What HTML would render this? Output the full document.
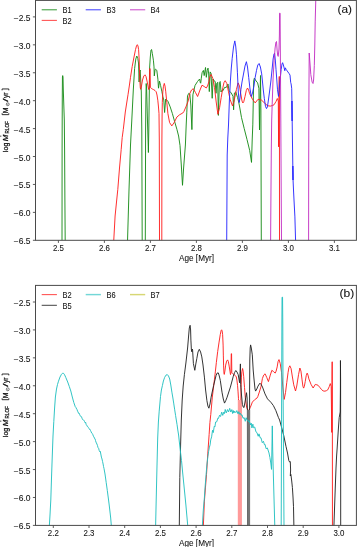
<!DOCTYPE html>
<html><head><meta charset="utf-8"><title>RLOF</title>
<style>
html,body{margin:0;padding:0;background:#fff;}
body{width:357px;height:547px;overflow:hidden;font-family:"Liberation Sans",sans-serif;}
svg{display:block;will-change:transform;}
</style></head><body>
<svg width="357" height="547" viewBox="0 0 357 547">
<defs><clipPath id="ct"><rect x="35.5" y="0.4" width="320.90" height="239.90"/></clipPath><clipPath id="cb"><rect x="35.5" y="285.4" width="320.90" height="240.00"/></clipPath></defs>
<rect x="0" y="0" width="357" height="547" fill="#ffffff"/>
<path d="M62.00,241.50 L62.10,150.00 L62.20,120.00 L62.30,95.00 L62.45,77.00 L62.70,75.60 L63.00,77.00 L63.30,90.00 L63.80,105.00 L64.30,120.00 L64.60,150.00 L64.90,200.00 L65.20,241.50" fill="none" stroke="#168a16" stroke-width="0.92" stroke-linejoin="round" clip-path="url(#ct)"/>
<path d="M127.50,241.50 L129.00,190.00 L130.50,145.00 L131.80,120.00 L133.30,90.00 L134.60,68.60 L135.80,59.00 L136.80,56.00 L137.80,58.50 L138.50,63.00 L138.90,75.00 L139.10,82.00 L139.60,72.00 L140.20,70.00 L140.80,82.00 L141.30,92.00 L141.80,130.00 L142.20,241.50 L145.30,241.50 L145.60,130.00 L145.90,100.00 L146.20,83.50 L146.60,88.00 L147.40,118.00 L148.40,152.50 L148.80,130.00 L149.20,100.00 L149.60,68.00 L150.30,57.00 L151.00,50.00 L151.60,49.50 L152.30,53.40 L153.40,60.20 L154.00,66.90 L154.30,75.90 L155.00,70.00 L155.50,69.10 L156.80,70.30 L157.90,79.20 L158.50,88.20 L159.50,81.10 L160.60,85.60 L161.80,91.20 L162.90,96.80 L163.80,100.00 L164.60,112.50 L165.70,99.00 L167.90,101.30 L170.20,106.90 L172.40,113.60 L174.60,121.50 L176.90,129.30 L178.60,136.00 L180.00,145.40 L181.30,165.00 L182.50,185.30 L183.60,168.00 L185.40,145.00 L186.20,125.00 L186.80,112.20 L187.50,96.00 L188.70,93.40 L189.80,93.90 L190.80,105.00 L191.90,129.60 L192.40,110.00 L192.90,94.80 L195.00,85.50 L197.50,81.50 L199.60,79.00 L200.30,82.50 L200.70,83.20 L201.30,78.20 L202.10,72.70 L203.40,70.40 L204.20,75.60 L205.50,67.50 L206.30,77.30 L207.20,70.60 L208.00,68.10 L208.70,74.00 L209.30,91.60 L210.10,71.90 L211.00,73.10 L212.20,98.30 L213.10,79.00 L213.90,80.70 L215.20,81.50 L216.00,93.30 L216.80,83.20 L217.70,82.40 L218.40,115.40 L219.40,82.40 L220.20,81.50 L221.00,92.00 L221.80,90.50 L222.90,90.80 L224.60,87.40 L226.30,87.40 L228.00,84.00 L229.10,90.80 L231.30,93.00 L233.00,96.40 L233.60,109.80 L234.40,93.00 L235.80,91.90 L237.50,97.50 L238.70,102.00 L240.00,109.00 L241.50,117.60 L244.20,128.50 L247.00,139.50 L249.70,150.50 L251.50,162.40 L252.20,140.00 L252.80,124.90 L253.30,100.00 L253.70,81.00 L254.30,78.20 L256.10,81.00 L257.60,82.80 L258.90,88.30 L259.50,130.00 L259.90,105.00 L260.50,75.50 L260.90,110.00 L261.30,241.50" fill="none" stroke="#168a16" stroke-width="0.92" stroke-linejoin="round" clip-path="url(#ct)"/>
<path d="M113.70,241.50 L115.10,216.00 L116.50,202.00 L117.80,189.40 L119.50,168.00 L121.20,149.40 L122.20,137.50 L123.30,129.40 L125.30,112.00 L126.70,103.00 L128.00,94.70 L129.30,86.00 L130.50,77.30 L132.20,66.50 L134.00,57.00 L135.50,49.60 L136.60,45.50 L137.30,44.70 L138.00,46.00 L138.60,49.60 L139.20,60.00 L139.50,70.00 L139.80,80.00 L140.30,88.00 L140.70,89.30 L141.50,86.00 L142.50,80.00 L143.80,76.00 L145.00,74.80 L146.00,76.50 L147.00,81.00 L148.00,86.00 L148.70,89.50 L149.30,88.00 L149.70,68.60 L150.10,68.60 L150.40,87.50 L151.20,88.20 L152.30,89.00 L153.40,89.50 L155.00,90.50 L156.20,91.80 L157.00,95.00 L157.80,100.20 L158.40,106.00 L159.00,113.60 L159.30,140.00 L159.50,241.50 L161.80,241.50 L161.90,140.00 L162.10,115.00 L162.30,102.40 L162.80,92.00 L163.40,86.70 L164.30,83.40 L165.00,86.00 L165.70,91.20 L166.80,102.40 L167.90,113.60 L169.60,122.60 L171.80,125.90 L174.10,122.60 L176.90,117.00 L179.70,114.70 L182.80,113.00 L183.90,111.50 L185.90,106.90 L188.10,101.30 L189.80,93.50 L191.50,90.00 L193.30,88.70 L195.50,92.50 L197.60,96.50 L200.00,90.00 L202.00,85.20 L204.20,86.50 L206.30,88.00 L207.50,86.00 L208.90,81.80 L210.00,76.50 L211.20,74.50 L212.80,78.40 L214.50,87.40 L216.20,102.00 L217.90,114.30 L219.60,107.60 L221.20,97.50 L222.90,87.40 L224.00,82.50 L225.20,80.70 L226.80,83.50 L228.50,91.90 L230.20,99.70 L232.50,105.90 L234.10,100.90 L236.40,89.60 L238.10,82.90 L239.50,86.00 L240.80,94.00 L242.00,101.00 L242.90,103.00 L243.80,101.50 L245.00,96.50 L246.30,90.50 L247.50,88.00 L248.60,90.00 L249.70,93.80 L252.50,99.30 L255.20,102.90 L258.00,99.30 L260.00,99.70 L261.60,100.20 L264.00,102.50 L266.10,104.50 L268.00,105.80 L270.40,106.10 L272.50,105.50 L274.00,104.80 L276.00,101.50 L277.30,98.50 L278.30,101.00 L278.60,146.80 L278.75,120.00 L278.90,100.00 L279.05,86.00 L279.20,76.50 L279.35,76.50 L279.45,110.00 L279.50,241.50" fill="none" stroke="#ff1c1c" stroke-width="0.92" stroke-linejoin="round" clip-path="url(#ct)"/>
<path d="M226.70,241.50 L227.20,155.00 L227.80,138.00 L228.50,125.00 L229.40,100.00 L230.40,81.00 L231.30,68.00 L232.20,58.30 L233.50,47.00 L234.80,40.90 L235.70,46.00 L236.50,54.80 L237.40,72.20 L238.30,92.00 L239.20,102.50 L240.00,98.00 L240.90,89.60 L242.00,82.00 L243.50,74.00 L245.00,66.00 L246.40,61.70 L247.50,67.00 L248.70,77.40 L250.00,89.00 L251.30,96.50 L252.50,93.00 L253.90,86.10 L255.20,77.30 L256.50,70.40 L257.80,65.00 L259.10,63.50 L260.40,67.00 L261.70,73.90 L262.50,82.00 L263.30,90.00 L264.30,98.30 L265.50,106.50 L266.50,108.60 L267.30,107.00 L268.00,103.00 L269.50,92.00 L270.90,81.00 L272.00,70.00 L273.10,59.00 L274.00,54.00 L274.60,53.20 L275.30,60.00 L276.00,69.30 L276.80,80.00 L277.50,89.80 L278.50,96.40 L279.10,91.00 L279.70,83.90 L280.50,76.00 L281.20,69.30 L282.00,64.00 L282.60,62.70 L283.40,65.00 L284.10,67.80 L284.80,70.70 L285.30,67.80 L286.20,69.50 L287.00,70.70 L289.20,73.70 L290.00,75.10 L290.70,82.50 L291.10,83.90 L291.70,88.30 L291.90,100.00 L292.10,121.00 L291.95,101.00 L292.20,122.00 L292.50,145.00 L292.80,165.00 L293.00,180.00 L292.85,166.00 L293.10,181.00 L293.50,190.00 L294.00,200.00 L294.90,216.90 L295.60,241.50" fill="none" stroke="#2424ff" stroke-width="0.92" stroke-linejoin="round" clip-path="url(#ct)"/>
<path d="M270.60,241.50 L270.90,200.00 L271.30,150.00 L271.70,120.00 L272.20,104.00 L273.00,80.00 L274.10,60.40 L275.10,48.00 L275.90,42.30 L276.50,41.50 L277.10,50.00 L277.70,55.50 L278.20,56.40 L279.00,49.00 L279.40,35.00 L279.60,13.20 L280.10,13.20 L280.40,60.00 L280.80,120.00 L281.50,241.50" fill="none" stroke="#c22cc2" stroke-width="0.92" stroke-linejoin="round" clip-path="url(#ct)"/>
<path d="M308.60,241.50 L308.70,160.00 L308.90,100.00 L309.20,53.00 L310.20,66.00 L310.80,74.50 L312.10,82.10 L313.00,83.50 L313.60,80.00 L314.30,65.70 L314.80,45.00 L315.20,21.90 L315.80,-1.00 L316.00,-5.00" fill="none" stroke="#c22cc2" stroke-width="0.92" stroke-linejoin="round" clip-path="url(#ct)"/>
<path d="M203.32,526.50 L204.40,501.10 L205.49,487.10 L206.50,474.50 L207.82,453.10 L209.14,434.50 L209.91,422.60 L210.77,414.50 L212.32,397.10 L213.41,388.10 L214.42,379.80 L215.42,371.10 L216.36,362.40 L217.68,351.60 L219.07,342.10 L220.24,334.70 L221.09,330.60 L221.63,329.80 L222.18,331.10 L222.64,334.70 L223.11,345.10 L223.34,355.10 L223.57,365.10 L223.96,373.10 L224.27,374.40 L224.89,371.10 L225.67,365.10 L226.68,361.10 L227.61,359.90 L228.39,361.60 L229.16,366.10 L229.94,371.10 L230.48,374.60 L230.95,373.10 L231.26,353.70 L231.57,353.70 L231.80,372.60 L232.42,373.30 L233.27,374.10 L234.13,374.60 L235.37,375.60 L236.30,376.90 L236.92,380.10 L237.54,385.30 L238.01,391.10 L238.47,398.70 L238.71,425.10 L238.86,526.50 L240.65,526.50 L240.72,425.10 L240.88,400.10 L241.04,387.50 L241.42,377.10 L241.89,371.80 L242.59,368.50 L243.13,371.10 L243.67,376.30 L244.53,387.50 L245.38,398.70 L246.70,407.70 L248.41,411.00 L250.19,407.70 L252.37,402.10 L254.54,399.80 L256.95,398.10 L257.80,396.60 L259.35,392.00 L261.06,386.40 L262.38,378.60 L263.70,375.10 L265.09,373.80 L266.80,377.60 L268.43,381.60 L270.29,375.10 L271.85,370.30 L273.55,371.60 L275.18,373.10 L276.11,371.10 L277.20,366.90 L278.05,361.60 L278.99,359.60 L280.23,363.50 L281.55,372.50 L282.87,387.10 L284.19,399.40 L285.51,392.70 L286.75,382.60 L288.07,372.50 L288.92,367.60 L289.85,365.80 L291.09,368.60 L292.41,377.00 L293.73,384.80 L295.52,391.00 L296.76,386.00 L298.54,374.70 L299.86,368.00 L300.95,371.10 L301.96,379.10 L302.89,386.10 L303.59,388.10 L304.29,386.60 L305.22,381.60 L306.23,375.60 L307.16,373.10 L308.01,375.10 L308.87,378.90 L311.04,384.40 L313.13,388.00 L315.31,384.40 L316.86,384.80 L318.10,385.30 L319.96,387.60 L321.59,389.60 L323.07,390.90 L324.93,391.20 L326.56,390.60 L327.72,389.90 L329.28,386.60 L330.29,383.60 L331.06,386.10 L331.20,386.50 L331.75,432.40 L331.90,405.00 L332.00,375.00 L332.10,361.80 L332.25,361.80 L332.35,400.00 L332.45,526.50" fill="none" stroke="#ff1c1c" stroke-width="0.92" stroke-linejoin="round" clip-path="url(#cb)"/>
<rect x="237.8" y="400" width="4.1" height="125.4" fill="#ff9a9a" clip-path="url(#cb)"/>
<path d="M179.30,526.50 L179.80,477.50 L180.60,445.00 L181.30,420.00 L182.20,400.00 L183.20,386.00 L184.40,374.60 L185.90,363.00 L187.60,348.00 L188.60,336.00 L189.30,328.00 L190.10,325.30 L190.60,330.00 L190.90,340.10 L191.40,350.00 L191.80,351.80 L192.30,349.00 L192.60,350.20 L193.40,363.60 L194.80,370.30 L195.80,364.00 L196.80,358.60 L198.00,352.00 L199.30,349.30 L200.60,352.00 L201.80,356.90 L203.00,365.00 L204.40,377.10 L205.60,390.00 L206.90,400.60 L207.90,406.00 L208.90,408.20 L210.00,404.00 L211.10,397.20 L213.60,385.50 L216.10,375.40 L217.20,373.00 L218.30,372.90 L219.30,376.00 L220.30,380.40 L222.00,392.20 L223.30,399.00 L224.50,403.10 L225.80,400.50 L227.10,397.20 L230.40,387.10 L233.30,376.20 L234.60,372.50 L235.80,370.50 L237.00,372.00 L238.20,374.60 L239.60,382.80 L240.10,372.00 L240.40,363.90 L240.70,384.50 L241.50,395.00 L242.40,404.30 L243.20,407.00 L244.00,407.60 L245.00,402.00 L245.70,397.70 L246.50,392.70 L247.10,398.00 L247.40,410.00 L247.60,526.50 L249.40,526.50 L249.60,390.00 L249.80,360.00 L250.20,348.00 L250.60,344.90 L251.30,348.00 L252.30,354.80 L253.20,370.00 L253.90,378.00 L255.00,389.00 L255.60,391.10 L256.80,389.00 L258.00,386.10 L259.90,383.20 L261.20,384.50 L262.50,387.10 L265.00,393.90 L267.50,398.90 L270.90,402.30 L273.40,405.60 L275.90,410.70 L278.40,417.40 L279.60,420.00 L281.50,427.00 L283.80,435.80 L286.00,446.50 L287.50,453.00 L288.80,460.50 L289.60,462.00 L290.30,461.60 L290.60,470.00 L290.30,476.00 L290.90,474.50 L291.60,480.00 L292.40,487.40 L293.00,497.00 L293.50,506.70 L293.90,526.50 L333.90,526.50 L335.00,495.00 L336.00,468.00 L336.60,456.00 L337.10,449.00 L338.30,430.00 L339.20,417.60 L340.20,412.00 L340.40,390.00 L340.45,360.50 L340.60,380.00 L340.70,526.50" fill="none" stroke="#222222" stroke-width="0.92" stroke-linejoin="round" clip-path="url(#cb)"/>
<rect x="247.2" y="410" width="2.9" height="115.4" fill="#767676" clip-path="url(#cb)"/>
<path d="M49.30,526.50 L50.00,515.00 L50.80,500.00 L51.50,478.00 L52.30,455.00 L53.00,436.00 L53.80,421.50 L54.60,408.00 L55.40,397.00 L56.50,389.00 L57.50,384.50 L58.50,381.20 L60.00,377.00 L61.50,374.30 L62.60,373.20 L63.50,373.30 L64.60,374.80 L65.80,377.50 L67.70,382.00 L69.30,386.50 L70.80,391.00 L72.30,397.00 L73.80,402.50 L75.30,406.80 L76.00,407.60 L76.60,409.00 L77.07,409.63 L77.55,411.17 L78.03,411.94 L78.50,413.20 L79.00,413.00 L79.50,414.23 L80.00,415.33 L80.50,416.20 L81.00,416.17 L81.50,416.75 L82.00,418.20 L82.55,419.54 L83.10,419.80 L83.57,419.98 L84.03,420.51 L84.50,421.50 L85.00,422.54 L85.50,422.00 L86.20,424.50 L86.70,425.12 L87.20,426.37 L87.70,426.50 L88.35,427.46 L89.00,428.50 L89.50,429.39 L90.00,429.27 L90.50,430.50 L91.10,431.72 L91.70,433.09 L92.30,433.50 L92.87,434.70 L93.43,436.22 L94.00,437.00 L94.50,438.44 L95.00,438.64 L95.50,440.50 L95.97,442.08 L96.43,442.98 L96.90,444.00 L97.45,445.43 L98.00,447.50 L98.60,448.25 L99.20,450.50 L99.80,451.80 L100.30,451.30 L100.80,454.00 L101.40,457.08 L102.00,459.00 L102.55,461.46 L103.10,464.00 L103.55,466.60 L104.00,468.50 L105.00,474.00 L106.20,482.50 L107.30,490.50 L108.30,498.00 L109.20,505.00 L110.00,512.00 L110.70,518.00 L111.40,526.50" fill="none" stroke="#1fbfbf" stroke-width="0.92" stroke-linejoin="round" clip-path="url(#cb)"/>
<path d="M155.60,526.50 L156.20,500.00 L156.90,470.00 L157.70,438.00 L158.40,422.00 L159.20,411.20 L160.50,396.50 L161.40,390.00 L162.40,385.60 L163.40,381.00 L164.60,377.50 L165.90,375.20 L167.30,374.60 L168.50,376.00 L169.70,379.00 L170.80,385.00 L171.90,392.20 L172.90,398.00 L173.80,403.90 L174.70,409.80 L175.60,415.60 L176.30,420.00 L177.00,424.30 L177.80,430.00 L178.60,435.00 L180.00,448.00 L181.50,460.50 L182.70,473.00 L184.00,486.00 L185.90,505.00 L187.80,526.50" fill="none" stroke="#1fbfbf" stroke-width="0.92" stroke-linejoin="round" clip-path="url(#cb)"/>
<path d="M202.30,526.50 L203.30,510.00 L204.40,497.80 L205.10,487.00 L205.90,477.10 L206.80,466.00 L207.90,456.40 L208.60,451.50 L209.43,447.12 L210.08,444.86 L210.72,439.85 L211.62,436.85 L212.52,430.28 L213.27,432.57 L214.28,426.20 L214.91,426.87 L215.61,422.02 L216.78,421.76 L217.83,418.17 L218.48,418.39 L219.55,415.23 L220.56,416.46 L221.72,412.11 L222.72,415.39 L223.83,412.12 L224.51,413.54 L225.22,409.44 L226.29,412.86 L227.50,409.58 L228.52,411.96 L229.70,408.38 L230.77,412.02 L231.82,409.60 L232.62,413.53 L233.24,410.53 L233.92,413.02 L234.61,411.24 L235.82,412.63 L236.80,410.61 L238.01,413.83 L238.86,411.61 L239.57,414.31 L240.33,413.19 L241.11,415.30 L241.97,414.71 L243.05,418.29 L244.13,417.60 L245.27,421.27 L246.15,417.72 L247.19,420.32 L247.94,420.27 L248.58,421.66 L249.25,420.74 L250.46,424.95 L251.23,423.17 L251.92,427.97 L252.85,424.18 L253.52,427.68 L254.70,427.00 L255.96,431.84 L256.94,432.60 L258.23,436.25 L259.01,433.87 L260.15,437.75 L260.98,437.80 L262.27,442.71 L263.45,441.27 L264.41,444.68 L265.03,444.30 L266.11,448.72 L267.37,447.98 L269.00,453.00 L269.90,457.50 L270.80,463.00 L271.50,469.40 L271.90,450.00 L272.30,425.90 L272.70,450.00 L273.50,480.00 L274.20,505.00 L274.80,526.50" fill="none" stroke="#1fbfbf" stroke-width="0.92" stroke-linejoin="round" clip-path="url(#cb)"/>
<path d="M281.20,526.50 L281.45,450.00 L281.70,380.00 L281.90,320.00 L282.05,297.20 L282.55,297.20 L282.75,320.00 L283.00,380.00 L283.50,450.00 L284.00,526.50" fill="none" stroke="#1fbfbf" stroke-width="0.92" stroke-linejoin="round" clip-path="url(#cb)"/>
<rect x="35.5" y="0.4" width="320.90" height="239.90" fill="none" stroke="#4a4a4a" stroke-width="1"/>
<line x1="32.9" y1="16.90" x2="35.5" y2="16.90" stroke="#4a4a4a" stroke-width="0.9"/>
<text x="30.60" y="20.90" text-anchor="end" font-size="8.3" textLength="16.76" lengthAdjust="spacingAndGlyphs" font-family="'Liberation Sans', sans-serif" fill="#111" stroke="#111" stroke-width="0.07" >−2.5</text>
<line x1="32.9" y1="44.83" x2="35.5" y2="44.83" stroke="#4a4a4a" stroke-width="0.9"/>
<text x="30.60" y="48.83" text-anchor="end" font-size="8.3" textLength="16.76" lengthAdjust="spacingAndGlyphs" font-family="'Liberation Sans', sans-serif" fill="#111" stroke="#111" stroke-width="0.07" >−3.0</text>
<line x1="32.9" y1="72.75" x2="35.5" y2="72.75" stroke="#4a4a4a" stroke-width="0.9"/>
<text x="30.60" y="76.75" text-anchor="end" font-size="8.3" textLength="16.76" lengthAdjust="spacingAndGlyphs" font-family="'Liberation Sans', sans-serif" fill="#111" stroke="#111" stroke-width="0.07" >−3.5</text>
<line x1="32.9" y1="100.68" x2="35.5" y2="100.68" stroke="#4a4a4a" stroke-width="0.9"/>
<text x="30.60" y="104.68" text-anchor="end" font-size="8.3" textLength="16.76" lengthAdjust="spacingAndGlyphs" font-family="'Liberation Sans', sans-serif" fill="#111" stroke="#111" stroke-width="0.07" >−4.0</text>
<line x1="32.9" y1="128.60" x2="35.5" y2="128.60" stroke="#4a4a4a" stroke-width="0.9"/>
<text x="30.60" y="132.60" text-anchor="end" font-size="8.3" textLength="16.76" lengthAdjust="spacingAndGlyphs" font-family="'Liberation Sans', sans-serif" fill="#111" stroke="#111" stroke-width="0.07" >−4.5</text>
<line x1="32.9" y1="156.53" x2="35.5" y2="156.53" stroke="#4a4a4a" stroke-width="0.9"/>
<text x="30.60" y="160.53" text-anchor="end" font-size="8.3" textLength="16.76" lengthAdjust="spacingAndGlyphs" font-family="'Liberation Sans', sans-serif" fill="#111" stroke="#111" stroke-width="0.07" >−5.0</text>
<line x1="32.9" y1="184.45" x2="35.5" y2="184.45" stroke="#4a4a4a" stroke-width="0.9"/>
<text x="30.60" y="188.45" text-anchor="end" font-size="8.3" textLength="16.76" lengthAdjust="spacingAndGlyphs" font-family="'Liberation Sans', sans-serif" fill="#111" stroke="#111" stroke-width="0.07" >−5.5</text>
<line x1="32.9" y1="212.38" x2="35.5" y2="212.38" stroke="#4a4a4a" stroke-width="0.9"/>
<text x="30.60" y="216.38" text-anchor="end" font-size="8.3" textLength="16.76" lengthAdjust="spacingAndGlyphs" font-family="'Liberation Sans', sans-serif" fill="#111" stroke="#111" stroke-width="0.07" >−6.0</text>
<line x1="32.9" y1="240.30" x2="35.5" y2="240.30" stroke="#4a4a4a" stroke-width="0.9"/>
<text x="30.60" y="244.30" text-anchor="end" font-size="8.3" textLength="16.76" lengthAdjust="spacingAndGlyphs" font-family="'Liberation Sans', sans-serif" fill="#111" stroke="#111" stroke-width="0.07" >−6.5</text>
<line x1="58.40" y1="240.3" x2="58.40" y2="242.9" stroke="#4a4a4a" stroke-width="0.9"/>
<text x="58.40" y="251.20" text-anchor="middle" font-size="8.3" textLength="10.97" lengthAdjust="spacingAndGlyphs" font-family="'Liberation Sans', sans-serif" fill="#111" stroke="#111" stroke-width="0.07" >2.5</text>
<line x1="104.40" y1="240.3" x2="104.40" y2="242.9" stroke="#4a4a4a" stroke-width="0.9"/>
<text x="104.40" y="251.20" text-anchor="middle" font-size="8.3" textLength="10.97" lengthAdjust="spacingAndGlyphs" font-family="'Liberation Sans', sans-serif" fill="#111" stroke="#111" stroke-width="0.07" >2.6</text>
<line x1="150.40" y1="240.3" x2="150.40" y2="242.9" stroke="#4a4a4a" stroke-width="0.9"/>
<text x="150.40" y="251.20" text-anchor="middle" font-size="8.3" textLength="10.97" lengthAdjust="spacingAndGlyphs" font-family="'Liberation Sans', sans-serif" fill="#111" stroke="#111" stroke-width="0.07" >2.7</text>
<line x1="196.40" y1="240.3" x2="196.40" y2="242.9" stroke="#4a4a4a" stroke-width="0.9"/>
<text x="196.40" y="251.20" text-anchor="middle" font-size="8.3" textLength="10.97" lengthAdjust="spacingAndGlyphs" font-family="'Liberation Sans', sans-serif" fill="#111" stroke="#111" stroke-width="0.07" >2.8</text>
<line x1="242.40" y1="240.3" x2="242.40" y2="242.9" stroke="#4a4a4a" stroke-width="0.9"/>
<text x="242.40" y="251.20" text-anchor="middle" font-size="8.3" textLength="10.97" lengthAdjust="spacingAndGlyphs" font-family="'Liberation Sans', sans-serif" fill="#111" stroke="#111" stroke-width="0.07" >2.9</text>
<line x1="288.40" y1="240.3" x2="288.40" y2="242.9" stroke="#4a4a4a" stroke-width="0.9"/>
<text x="288.40" y="251.20" text-anchor="middle" font-size="8.3" textLength="10.97" lengthAdjust="spacingAndGlyphs" font-family="'Liberation Sans', sans-serif" fill="#111" stroke="#111" stroke-width="0.07" >3.0</text>
<line x1="334.40" y1="240.3" x2="334.40" y2="242.9" stroke="#4a4a4a" stroke-width="0.9"/>
<text x="334.40" y="251.20" text-anchor="middle" font-size="8.3" textLength="10.97" lengthAdjust="spacingAndGlyphs" font-family="'Liberation Sans', sans-serif" fill="#111" stroke="#111" stroke-width="0.07" >3.1</text>
<text x="196.55" y="261.00" text-anchor="middle" font-size="8.3" textLength="35.02" lengthAdjust="spacingAndGlyphs" font-family="'Liberation Sans', sans-serif" fill="#111" stroke="#111" stroke-width="0.07" >Age [Myr]</text>
<text x="352.00" y="12.80" text-anchor="end" font-size="10.5" textLength="14.49" lengthAdjust="spacingAndGlyphs" font-family="'Liberation Sans', sans-serif" fill="#111" stroke="#111" stroke-width="0.07" >(a)</text>
<g transform="translate(7.7,153.15) rotate(-90)" font-family="'Liberation Sans', sans-serif" fill="#111"><text x="1.0" y="0" font-size="8.1" textLength="9.5" lengthAdjust="spacingAndGlyphs" stroke="#111" stroke-width="0.28">log</text><text x="12.0" y="0" font-size="8.1" textLength="6.6" lengthAdjust="spacingAndGlyphs" stroke="#111" stroke-width="0.28" font-style="italic">M</text><text x="19.7" y="1.4" font-size="6.0" textLength="12.3" lengthAdjust="spacingAndGlyphs" stroke="#111" stroke-width="0.28">RLOF</text><text x="40.0" y="0" font-size="8.1" textLength="5.7" lengthAdjust="spacingAndGlyphs" stroke="#111" stroke-width="0.28">M</text><text x="51.5" y="0" font-size="8.1" textLength="3.2" lengthAdjust="spacingAndGlyphs" stroke="#111" stroke-width="0.28">/</text><text x="55.2" y="0" font-size="8.1" textLength="3.3" lengthAdjust="spacingAndGlyphs" stroke="#111" stroke-width="0.28">y</text><text x="58.5" y="0" font-size="8.1" textLength="2.3" lengthAdjust="spacingAndGlyphs" stroke="#111" stroke-width="0.28">r</text><circle cx="17.1" cy="-6.9" r="0.6" fill="#111"/><circle cx="48.9" cy="0.05" r="1.45" fill="none" stroke="#222" stroke-width="0.6"/><circle cx="48.9" cy="0.05" r="0.4" fill="#222"/><path d="M39.9,-5.6 L38.5,-5.6 L38.5,1.1 L39.9,1.1" fill="none" stroke="#1a1a1a" stroke-width="0.9"/><path d="M62.8,-5.6 L64.2,-5.6 L64.2,1.1 L62.8,1.1" fill="none" stroke="#1a1a1a" stroke-width="0.9"/></g>
<rect x="35.5" y="285.4" width="320.90" height="240.00" fill="none" stroke="#4a4a4a" stroke-width="1"/>
<line x1="32.9" y1="302.00" x2="35.5" y2="302.00" stroke="#4a4a4a" stroke-width="0.9"/>
<text x="30.60" y="306.00" text-anchor="end" font-size="8.3" textLength="16.76" lengthAdjust="spacingAndGlyphs" font-family="'Liberation Sans', sans-serif" fill="#111" stroke="#111" stroke-width="0.07" >−2.5</text>
<line x1="32.9" y1="329.92" x2="35.5" y2="329.92" stroke="#4a4a4a" stroke-width="0.9"/>
<text x="30.60" y="333.92" text-anchor="end" font-size="8.3" textLength="16.76" lengthAdjust="spacingAndGlyphs" font-family="'Liberation Sans', sans-serif" fill="#111" stroke="#111" stroke-width="0.07" >−3.0</text>
<line x1="32.9" y1="357.85" x2="35.5" y2="357.85" stroke="#4a4a4a" stroke-width="0.9"/>
<text x="30.60" y="361.85" text-anchor="end" font-size="8.3" textLength="16.76" lengthAdjust="spacingAndGlyphs" font-family="'Liberation Sans', sans-serif" fill="#111" stroke="#111" stroke-width="0.07" >−3.5</text>
<line x1="32.9" y1="385.77" x2="35.5" y2="385.77" stroke="#4a4a4a" stroke-width="0.9"/>
<text x="30.60" y="389.77" text-anchor="end" font-size="8.3" textLength="16.76" lengthAdjust="spacingAndGlyphs" font-family="'Liberation Sans', sans-serif" fill="#111" stroke="#111" stroke-width="0.07" >−4.0</text>
<line x1="32.9" y1="413.70" x2="35.5" y2="413.70" stroke="#4a4a4a" stroke-width="0.9"/>
<text x="30.60" y="417.70" text-anchor="end" font-size="8.3" textLength="16.76" lengthAdjust="spacingAndGlyphs" font-family="'Liberation Sans', sans-serif" fill="#111" stroke="#111" stroke-width="0.07" >−4.5</text>
<line x1="32.9" y1="441.62" x2="35.5" y2="441.62" stroke="#4a4a4a" stroke-width="0.9"/>
<text x="30.60" y="445.62" text-anchor="end" font-size="8.3" textLength="16.76" lengthAdjust="spacingAndGlyphs" font-family="'Liberation Sans', sans-serif" fill="#111" stroke="#111" stroke-width="0.07" >−5.0</text>
<line x1="32.9" y1="469.55" x2="35.5" y2="469.55" stroke="#4a4a4a" stroke-width="0.9"/>
<text x="30.60" y="473.55" text-anchor="end" font-size="8.3" textLength="16.76" lengthAdjust="spacingAndGlyphs" font-family="'Liberation Sans', sans-serif" fill="#111" stroke="#111" stroke-width="0.07" >−5.5</text>
<line x1="32.9" y1="497.47" x2="35.5" y2="497.47" stroke="#4a4a4a" stroke-width="0.9"/>
<text x="30.60" y="501.47" text-anchor="end" font-size="8.3" textLength="16.76" lengthAdjust="spacingAndGlyphs" font-family="'Liberation Sans', sans-serif" fill="#111" stroke="#111" stroke-width="0.07" >−6.0</text>
<line x1="32.9" y1="525.40" x2="35.5" y2="525.40" stroke="#4a4a4a" stroke-width="0.9"/>
<text x="30.60" y="529.40" text-anchor="end" font-size="8.3" textLength="16.76" lengthAdjust="spacingAndGlyphs" font-family="'Liberation Sans', sans-serif" fill="#111" stroke="#111" stroke-width="0.07" >−6.5</text>
<line x1="53.30" y1="525.4" x2="53.30" y2="528.0" stroke="#4a4a4a" stroke-width="0.9"/>
<text x="53.30" y="536.30" text-anchor="middle" font-size="8.3" textLength="10.97" lengthAdjust="spacingAndGlyphs" font-family="'Liberation Sans', sans-serif" fill="#111" stroke="#111" stroke-width="0.07" >2.2</text>
<line x1="89.00" y1="525.4" x2="89.00" y2="528.0" stroke="#4a4a4a" stroke-width="0.9"/>
<text x="89.00" y="536.30" text-anchor="middle" font-size="8.3" textLength="10.97" lengthAdjust="spacingAndGlyphs" font-family="'Liberation Sans', sans-serif" fill="#111" stroke="#111" stroke-width="0.07" >2.3</text>
<line x1="124.70" y1="525.4" x2="124.70" y2="528.0" stroke="#4a4a4a" stroke-width="0.9"/>
<text x="124.70" y="536.30" text-anchor="middle" font-size="8.3" textLength="10.97" lengthAdjust="spacingAndGlyphs" font-family="'Liberation Sans', sans-serif" fill="#111" stroke="#111" stroke-width="0.07" >2.4</text>
<line x1="160.40" y1="525.4" x2="160.40" y2="528.0" stroke="#4a4a4a" stroke-width="0.9"/>
<text x="160.40" y="536.30" text-anchor="middle" font-size="8.3" textLength="10.97" lengthAdjust="spacingAndGlyphs" font-family="'Liberation Sans', sans-serif" fill="#111" stroke="#111" stroke-width="0.07" >2.5</text>
<line x1="196.10" y1="525.4" x2="196.10" y2="528.0" stroke="#4a4a4a" stroke-width="0.9"/>
<text x="196.10" y="536.30" text-anchor="middle" font-size="8.3" textLength="10.97" lengthAdjust="spacingAndGlyphs" font-family="'Liberation Sans', sans-serif" fill="#111" stroke="#111" stroke-width="0.07" >2.6</text>
<line x1="231.80" y1="525.4" x2="231.80" y2="528.0" stroke="#4a4a4a" stroke-width="0.9"/>
<text x="231.80" y="536.30" text-anchor="middle" font-size="8.3" textLength="10.97" lengthAdjust="spacingAndGlyphs" font-family="'Liberation Sans', sans-serif" fill="#111" stroke="#111" stroke-width="0.07" >2.7</text>
<line x1="267.50" y1="525.4" x2="267.50" y2="528.0" stroke="#4a4a4a" stroke-width="0.9"/>
<text x="267.50" y="536.30" text-anchor="middle" font-size="8.3" textLength="10.97" lengthAdjust="spacingAndGlyphs" font-family="'Liberation Sans', sans-serif" fill="#111" stroke="#111" stroke-width="0.07" >2.8</text>
<line x1="303.20" y1="525.4" x2="303.20" y2="528.0" stroke="#4a4a4a" stroke-width="0.9"/>
<text x="303.20" y="536.30" text-anchor="middle" font-size="8.3" textLength="10.97" lengthAdjust="spacingAndGlyphs" font-family="'Liberation Sans', sans-serif" fill="#111" stroke="#111" stroke-width="0.07" >2.9</text>
<line x1="338.90" y1="525.4" x2="338.90" y2="528.0" stroke="#4a4a4a" stroke-width="0.9"/>
<text x="338.90" y="536.30" text-anchor="middle" font-size="8.3" textLength="10.97" lengthAdjust="spacingAndGlyphs" font-family="'Liberation Sans', sans-serif" fill="#111" stroke="#111" stroke-width="0.07" >3.0</text>
<text x="196.55" y="546.10" text-anchor="middle" font-size="8.3" textLength="35.02" lengthAdjust="spacingAndGlyphs" font-family="'Liberation Sans', sans-serif" fill="#111" stroke="#111" stroke-width="0.07" >Age [Myr]</text>
<text x="354.20" y="296.80" text-anchor="end" font-size="10.5" textLength="14.72" lengthAdjust="spacingAndGlyphs" font-family="'Liberation Sans', sans-serif" fill="#111" stroke="#111" stroke-width="0.07" >(b)</text>
<g transform="translate(7.7,438.20) rotate(-90)" font-family="'Liberation Sans', sans-serif" fill="#111"><text x="1.0" y="0" font-size="8.1" textLength="9.5" lengthAdjust="spacingAndGlyphs" stroke="#111" stroke-width="0.28">log</text><text x="12.0" y="0" font-size="8.1" textLength="6.6" lengthAdjust="spacingAndGlyphs" stroke="#111" stroke-width="0.28" font-style="italic">M</text><text x="19.7" y="1.4" font-size="6.0" textLength="12.3" lengthAdjust="spacingAndGlyphs" stroke="#111" stroke-width="0.28">RLOF</text><text x="40.0" y="0" font-size="8.1" textLength="5.7" lengthAdjust="spacingAndGlyphs" stroke="#111" stroke-width="0.28">M</text><text x="51.5" y="0" font-size="8.1" textLength="3.2" lengthAdjust="spacingAndGlyphs" stroke="#111" stroke-width="0.28">/</text><text x="55.2" y="0" font-size="8.1" textLength="3.3" lengthAdjust="spacingAndGlyphs" stroke="#111" stroke-width="0.28">y</text><text x="58.5" y="0" font-size="8.1" textLength="2.3" lengthAdjust="spacingAndGlyphs" stroke="#111" stroke-width="0.28">r</text><circle cx="17.1" cy="-6.9" r="0.6" fill="#111"/><circle cx="48.9" cy="0.05" r="1.45" fill="none" stroke="#222" stroke-width="0.6"/><circle cx="48.9" cy="0.05" r="0.4" fill="#222"/><path d="M39.9,-5.6 L38.5,-5.6 L38.5,1.1 L39.9,1.1" fill="none" stroke="#1a1a1a" stroke-width="0.9"/><path d="M62.8,-5.6 L64.2,-5.6 L64.2,1.1 L62.8,1.1" fill="none" stroke="#1a1a1a" stroke-width="0.9"/></g>
<line x1="41.7" y1="9.70" x2="56.90" y2="9.70" stroke="#168a16" stroke-width="1.45" opacity="0.62"/>
<text x="62.60" y="12.90" text-anchor="start" font-size="8.3" textLength="9.12" lengthAdjust="spacingAndGlyphs" font-family="'Liberation Sans', sans-serif" fill="#111" stroke="#111" stroke-width="0.07" >B1</text>
<line x1="41.7" y1="20.40" x2="56.90" y2="20.40" stroke="#ff1c1c" stroke-width="1.1" opacity="0.75"/>
<text x="62.60" y="23.60" text-anchor="start" font-size="8.3" textLength="9.12" lengthAdjust="spacingAndGlyphs" font-family="'Liberation Sans', sans-serif" fill="#111" stroke="#111" stroke-width="0.07" >B2</text>
<line x1="85.7" y1="9.70" x2="100.90" y2="9.70" stroke="#2424ff" stroke-width="1.45" opacity="0.62"/>
<text x="106.60" y="12.90" text-anchor="start" font-size="8.3" textLength="9.12" lengthAdjust="spacingAndGlyphs" font-family="'Liberation Sans', sans-serif" fill="#111" stroke="#111" stroke-width="0.07" >B3</text>
<line x1="130.0" y1="9.70" x2="145.20" y2="9.70" stroke="#c22cc2" stroke-width="1.45" opacity="0.62"/>
<text x="150.60" y="12.90" text-anchor="start" font-size="8.3" textLength="9.12" lengthAdjust="spacingAndGlyphs" font-family="'Liberation Sans', sans-serif" fill="#111" stroke="#111" stroke-width="0.07" >B4</text>
<line x1="41.7" y1="294.60" x2="56.90" y2="294.60" stroke="#ff1c1c" stroke-width="1.1" opacity="0.75"/>
<text x="62.60" y="297.80" text-anchor="start" font-size="8.3" textLength="9.12" lengthAdjust="spacingAndGlyphs" font-family="'Liberation Sans', sans-serif" fill="#111" stroke="#111" stroke-width="0.07" >B2</text>
<line x1="41.7" y1="305.30" x2="56.90" y2="305.30" stroke="#222222" stroke-width="0.95" opacity="0.9"/>
<text x="62.60" y="308.50" text-anchor="start" font-size="8.3" textLength="9.12" lengthAdjust="spacingAndGlyphs" font-family="'Liberation Sans', sans-serif" fill="#111" stroke="#111" stroke-width="0.07" >B5</text>
<line x1="85.7" y1="294.60" x2="100.90" y2="294.60" stroke="#1fbfbf" stroke-width="1.45" opacity="0.62"/>
<text x="106.60" y="297.80" text-anchor="start" font-size="8.3" textLength="9.12" lengthAdjust="spacingAndGlyphs" font-family="'Liberation Sans', sans-serif" fill="#111" stroke="#111" stroke-width="0.07" >B6</text>
<line x1="130.0" y1="294.60" x2="145.20" y2="294.60" stroke="#bfbf20" stroke-width="1.45" opacity="0.62"/>
<text x="150.60" y="297.80" text-anchor="start" font-size="8.3" textLength="9.12" lengthAdjust="spacingAndGlyphs" font-family="'Liberation Sans', sans-serif" fill="#111" stroke="#111" stroke-width="0.07" >B7</text>
</svg>
</body></html>
